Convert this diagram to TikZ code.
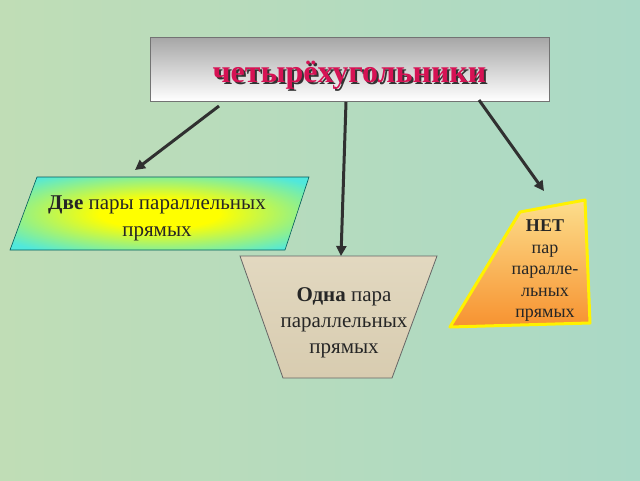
\documentclass[tikz,border=0pt]{standalone}
\usepackage{fontspec}
\setmainfont{Liberation Serif}
\usetikzlibrary{positioning,arrows.meta}

\definecolor{bgleft}{RGB}{192,221,182}
\definecolor{bgright}{RGB}{170,217,198}
\definecolor{titlered}{RGB}{214,18,84}
\definecolor{arrowgray}{RGB}{48,48,48}
\definecolor{aqua}{RGB}{80,232,220}
\definecolor{tan}{RGB}{216,204,176}
\definecolor{tanlight}{RGB}{226,216,192}
\definecolor{peach}{RGB}{252,222,140}
\definecolor{deeporange}{RGB}{247,146,48}

\pgfdeclareradialshading{twopairs}{\pgfpoint{0bp}{0bp}}{%
  color(0bp)=(yellow); color(10bp)=(yellow); color(32bp)=(aqua); color(50bp)=(aqua)}

\tikzset{
  arrowline/.style={line width=3pt, arrowgray, -{Triangle[length=10pt,width=10pt]}},
  label text/.style={align=center, text=black!85}
}

\begin{document}
\begin{tikzpicture}[x=1pt,y=-1pt]
  % Background
  \useasboundingbox (0,0) rectangle (640,480);
  \shade[left color=bgleft, right color=bgright] (0,0) rectangle (640,480);

  % Title
  \node (quad) [draw=black!55, line width=0.8pt, top color=black!35, bottom color=white,
        minimum width=399pt, minimum height=64pt, inner sep=0pt] at (349.5,69)
        {\raisebox{-13pt}[0pt][0pt]{\fontsize{32}{38}\selectfont\bfseries
          \makebox[0pt][l]{\hspace{2pt}\raisebox{-2pt}{\color{black!80}четырёхугольники}}%
          \color{titlered}четырёхугольники}};

  % Shapes
  \draw[teal!70!black, line width=0.6pt, shading=twopairs]
    (37,177) -- (309,177) -- (285,250) -- (10,250) -- cycle;
  \draw[black!60, line width=0.8pt, top color=tanlight, bottom color=tan]
    (240,256) -- (437,256) -- (392,378) -- (283,378) -- cycle;
  \draw[yellow, line width=3pt, line join=round, top color=peach, bottom color=deeporange]
    (520,212) -- (585,200) -- (590,323) -- (450,327) -- cycle;

  % Texts
  \node (two) [label text, font=\fontsize{21}{27}\selectfont] at (157,218)
    {\textbf{Две} пары параллельных\\прямых};
  \node (one) [label text, font=\fontsize{21}{26}\selectfont] at (344,323)
    {\textbf{Одна} пара\\параллельных\\прямых};
  \node (none) [label text, font=\fontsize{18}{21.5}\selectfont] at (545,271)
    {\textbf{НЕТ}\\пар\\паралле-\\льных\\прямых};

  % Arrows
  \coordinate (from-two) at (219,106);
  \coordinate (from-one) at (346,102);
  \coordinate (from-none) at (479,100);
  \coordinate (to-two) at (135,170);
  \coordinate (to-one) at (341,256);
  \coordinate (to-none) at (544,191);
  \draw[arrowline] (from-two) -- (to-two);
  \draw[arrowline] (from-one) -- (to-one);
  \draw[arrowline] (from-none) -- (to-none);
\end{tikzpicture}
\end{document}
